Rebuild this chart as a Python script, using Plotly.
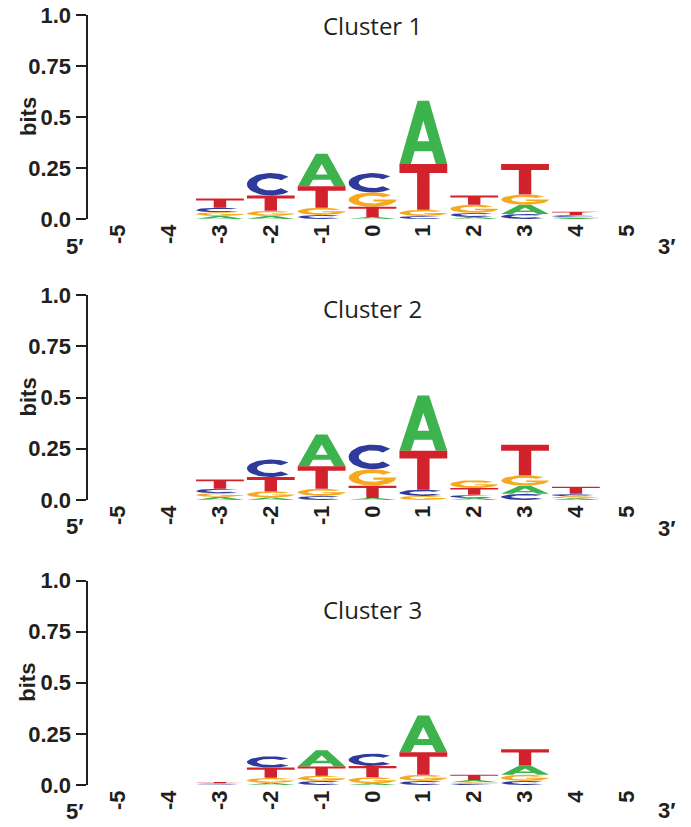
import numpy as np
import plotly.graph_objects as go

# ---------------- data ----------------
positions = [-5, -4, -3, -2, -1, 0, 1, 2, 3, 4, 5]
letters = ["A", "C", "G", "T"]
cluster_titles = ["Cluster 1", "Cluster 2", "Cluster 3"]
ytick_vals = [0.0, 0.25, 0.5, 0.75, 1.0]
ytick_text = ["0.0", "0.25", "0.5", "0.75", "1.0"]

c1_A = [0, 0, 0.015, 0.015, 0.160, 0.010, 0.310, 0.010, 0.045, 0.005, 0]
c1_C = [0, 0, 0.022, 0.110, 0.020, 0.095, 0.015, 0.020, 0.025, 0.010, 0]
c1_G = [0, 0, 0.018, 0.025, 0.035, 0.070, 0.030, 0.040, 0.050, 0.005, 0]
c1_T = [0, 0, 0.045, 0.075, 0.105, 0.050, 0.225, 0.045, 0.150, 0.015, 0]

c2_A = [0, 0, 0.015, 0.012, 0.155, 0.010, 0.270, 0.010, 0.040, 0.008, 0]
c2_C = [0, 0, 0.022, 0.085, 0.020, 0.120, 0.030, 0.015, 0.030, 0.012, 0]
c2_G = [0, 0, 0.018, 0.030, 0.035, 0.080, 0.020, 0.038, 0.050, 0.010, 0]
c2_T = [0, 0, 0.045, 0.070, 0.110, 0.060, 0.190, 0.033, 0.150, 0.035, 0]

c3_A = [0, 0, 0.002, 0.010, 0.080, 0.008, 0.180, 0.012, 0.045, 0, 0]
c3_C = [0, 0, 0.003, 0.055, 0.020, 0.060, 0.020, 0.005, 0.020, 0, 0]
c3_G = [0, 0, 0.004, 0.025, 0.025, 0.030, 0.030, 0.008, 0.030, 0, 0]
c3_T = [0, 0, 0.006, 0.050, 0.045, 0.055, 0.110, 0.025, 0.080, 0, 0]

clusters = [
    {"A": c1_A, "C": c1_C, "G": c1_G, "T": c1_T},
    {"A": c2_A, "C": c2_C, "G": c2_G, "T": c2_T},
    {"A": c3_A, "C": c3_C, "G": c3_G, "T": c3_T},
]

# ---------------- style ----------------
colors = {"A": "#3db34d", "C": "#2e3a9c", "G": "#f6a81e", "T": "#d2222c"}
INK = "#231f20"
W, H = 691, 827
LETTER_W = 0.94
BOLD = dict(family="Liberation Sans", size=22, color=INK, weight="bold")


def arc(cx, cy, rx, ry, a0, a1, n=40):
    t = np.radians(np.linspace(a0, a1, n))
    return list(zip(cx + rx * np.cos(t), cy + ry * np.sin(t)))


def glyph(letter):
    if letter == "T":
        return [(0, 1), (1, 1), (1, 0.8), (0.63, 0.8), (0.63, 0), (0.37, 0),
                (0.37, 0.8), (0, 0.8), (0, 1)]
    if letter == "A":
        return [(0, 0), (0.24, 0), (0.316, 0.2),
                (0.377, 0.36), (0.5, 0.684), (0.623, 0.36), (0.377, 0.36),
                (0.316, 0.2), (0.684, 0.2), (0.76, 0), (1, 0),
                (0.62, 1), (0.38, 1), (0, 0)]
    if letter == "C":
        pts = arc(0.5, 0.5, 0.5, 0.5, 42, 318)
        pts += arc(0.5, 0.5, 0.29, 0.27, 318, 42)
        pts.append(pts[0])
        return pts
    if letter == "G":
        pts = arc(0.5, 0.5, 0.5, 0.5, 38, 360)
        pts += [(1.0, 0.5), (0.52, 0.5), (0.52, 0.36), (0.76, 0.36)]
        pts += arc(0.5, 0.5, 0.29, 0.27, 322, 38)
        pts.append(pts[0])
        return pts


GLYPHS = {L: glyph(L) for L in letters}

# panel pixel geometry (top y of 1.0, bottom y of 0.0)
panels_px = [(15, 219), (295, 500), (580.5, 785)]
title_y_px = [25, 308, 609]
five_y_px = [246, 526, 811]
three_y_px = [246, 528, 810]
x_left_px, x_right_px = 87.5, 657.5
xr = 5.605

fig = go.Figure()
layout = dict(
    width=W, height=H, margin=dict(l=0, r=0, t=0, b=0, autoexpand=False),
    paper_bgcolor="white", plot_bgcolor="white", showlegend=False,
    annotations=[],
)

for i, data in enumerate(clusters):
    n = i + 1
    xa = "x" if n == 1 else f"x{n}"
    ya = "y" if n == 1 else f"y{n}"
    segs = {L: ([], []) for L in letters}
    for j, p in enumerate(positions):
        col = sorted(letters, key=lambda L: data[L][j])
        base = 0.0
        for L in col:
            h = data[L][j]
            if h <= 0:
                continue
            gx, gy = zip(*GLYPHS[L])
            xs = [p - LETTER_W / 2 + g * LETTER_W for g in gx]
            ys = [base + g * h for g in gy]
            segs[L][0].extend(xs + [None])
            segs[L][1].extend(ys + [None])
            base += h
    for L in letters:
        fig.add_trace(go.Scatter(
            x=segs[L][0], y=segs[L][1], mode="lines", fill="toself",
            fillcolor=colors[L], line=dict(width=0, color=colors[L]),
            hoverinfo="skip", xaxis=xa, yaxis=ya, showlegend=False))

    top_px, bot_px = panels_px[i]
    layout["xaxis" if n == 1 else f"xaxis{n}"] = dict(
        domain=[x_left_px / W, x_right_px / W], range=[-xr, xr],
        anchor=ya, tickmode="array", tickvals=positions,
        ticktext=[str(p) for p in positions], tickangle=-90,
        showline=False, showgrid=False, zeroline=False, ticks="",
        tickfont=BOLD, automargin=False, fixedrange=True,
    )
    layout["yaxis" if n == 1 else f"yaxis{n}"] = dict(
        domain=[1 - bot_px / H, 1 - top_px / H], range=[0, 1],
        anchor=xa, tickmode="array", tickvals=ytick_vals, ticktext=ytick_text,
        showline=True, linecolor=INK, linewidth=2, ticks="outside",
        ticklen=10, tickwidth=2, tickcolor=INK, showgrid=False, zeroline=False,
        tickfont=BOLD, automargin=False, fixedrange=True,
    )
    layout["annotations"] += [
        dict(text=cluster_titles[i], x=372.5 / W, y=1 - title_y_px[i] / H,
             xref="paper", yref="paper", showarrow=False, xanchor="center",
             yanchor="middle", font=dict(family="Open Sans", size=24, color=INK)),
        dict(text="bits", x=28 / W, y=1 - (top_px + bot_px) / 2 / H,
             xref="paper", yref="paper", showarrow=False, textangle=-90,
             xanchor="center", yanchor="middle", font=BOLD),
        dict(text="5′", x=75 / W, y=1 - five_y_px[i] / H, xref="paper",
             yref="paper", showarrow=False, xanchor="center", yanchor="middle",
             font=BOLD),
        dict(text="3′", x=667 / W, y=1 - three_y_px[i] / H, xref="paper",
             yref="paper", showarrow=False, xanchor="center", yanchor="middle",
             font=BOLD),
    ]

fig.update_layout(**layout)
fig.write_html("out.html")
